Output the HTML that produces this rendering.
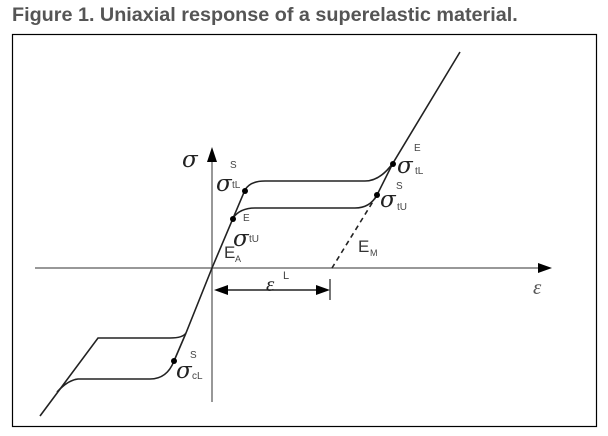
<!DOCTYPE html>
<html><head><style>
body{margin:0;background:#fff;width:608px;height:436px;overflow:hidden;font-family:"Liberation Sans",sans-serif}
.t{position:absolute;left:12px;top:4px;font-weight:bold;font-size:19.8px;color:#555;white-space:nowrap}
</style></head><body>
<div class="t">Figure 1. Uniaxial response of a superelastic material.</div>
<svg width="608" height="436" style="position:absolute;left:0;top:0">
<rect x="12.5" y="34.5" width="584" height="392" fill="none" stroke="#000" stroke-width="1.2"/>
<g stroke="#777" stroke-width="1.5" fill="none">
<line x1="35" y1="268" x2="540" y2="268"/>
<line x1="212" y1="402" x2="212" y2="160"/>
</g>
<polygon points="552,268 538,263 538,273" fill="#000"/>
<polygon points="212,147 207,162 217,162" fill="#000"/>
<g stroke="#222" stroke-width="1.6" fill="none">
<path d="M186,333 L212,268 L245,190 Q250,181 265,181 L365,181 Q380,181 393,163 L460,52"/>
<path d="M393,163 L377,195 Q370,208 355,208 L255,208 Q240,208 233,218"/>
<path d="M186,333 Q183,338 170,338 L98,338 L40,416"/>
<path d="M174,361 Q167,379 150,379 L78,379 Q68,380 57,392"/>
<line x1="186" y1="333" x2="174" y2="361"/>
<line x1="377" y1="195" x2="332" y2="268" stroke-dasharray="5,4"/>
<line x1="222" y1="290" x2="322" y2="290"/>
<line x1="330" y1="279" x2="330" y2="300" stroke="#555"/>
</g>
<polygon points="214,290 228,285 228,295" fill="#000"/>
<polygon points="330,290 316,285 316,295" fill="#000"/>
<g fill="#000"><circle cx="245" cy="191" r="3"/><circle cx="233" cy="219" r="3"/><circle cx="393" cy="164" r="3"/><circle cx="377" cy="195" r="3"/><circle cx="174" cy="361" r="3"/></g>
<g font-family="DejaVu Serif,serif" font-style="italic" font-size="23" fill="#222">
<text x="182" y="167">σ</text><text x="216" y="191">σ</text><text x="233" y="246">σ</text>
<text x="397" y="173">σ</text><text x="380" y="207">σ</text><text x="176" y="378">σ</text>
</g>
<g font-family="Liberation Serif,serif" font-style="italic" font-size="21" fill="#222">
<text x="266" y="291">ε</text><text x="533" y="294" fill="#555">ε</text>
</g>
<g font-size="10" fill="#444">
<text x="230" y="168">S</text><text x="232" y="188">tL</text>
<text x="243" y="221">E</text><text x="249" y="242">tU</text>
<text x="414" y="151">E</text><text x="415" y="174">tL</text>
<text x="396" y="189">S</text><text x="397" y="210">tU</text>
<text x="190" y="358">S</text><text x="192" y="379">cL</text>
<text x="283" y="279" font-size="11">L</text>
<text x="235" y="262" font-size="9">A</text>
<text x="370" y="256" font-size="9">M</text>
</g>
<g font-size="17" fill="#333"><text x="224" y="258">E</text><text x="358" y="252">E</text></g>
</svg>
</body></html>
